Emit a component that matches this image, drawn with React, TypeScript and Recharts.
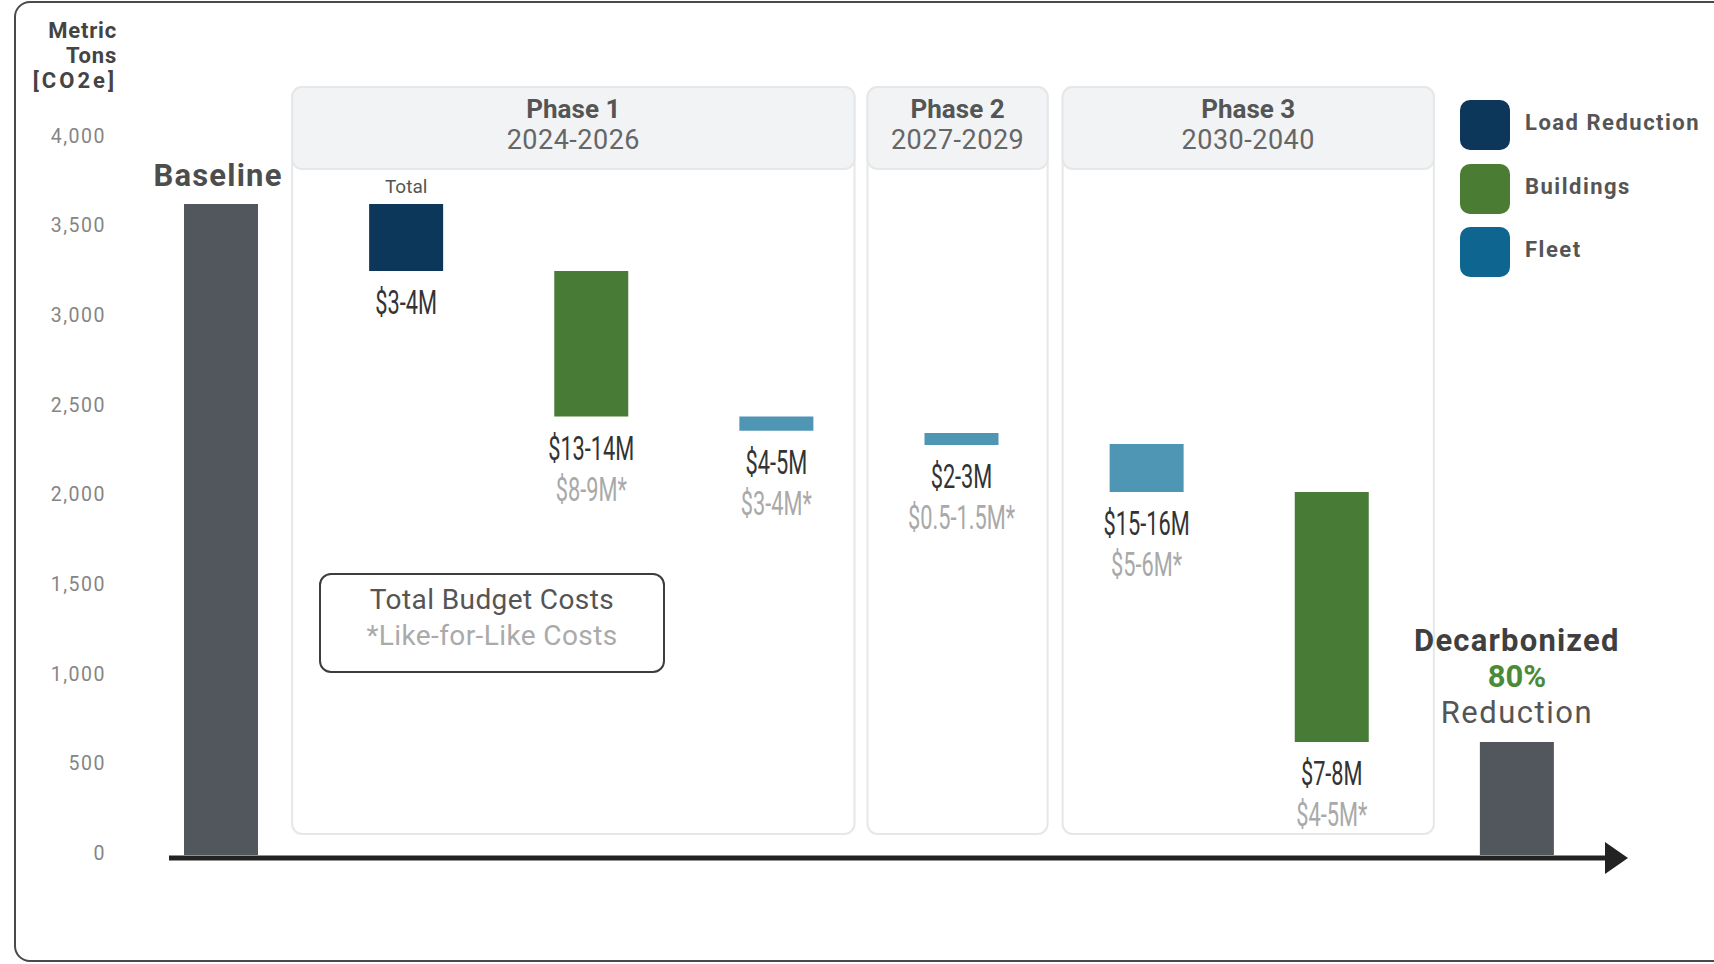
import React from 'react';
import {
  BarChart,
  Bar,
  XAxis,
  YAxis,
  Cell,
  LabelList,
  ReferenceArea,
  ReferenceLine,
} from 'recharts';

// waterfall steps
const steps = [
  'Baseline',
  'P1 Load Reduction',
  'P1 Buildings',
  'P1 Fleet',
  'P2 Fleet',
  'P3 Fleet',
  'P3 Buildings',
  'Decarbonized',
];
const stepKinds = ['total', 'load', 'buildings', 'fleet', 'fleet', 'fleet', 'buildings', 'total'];
const rangeLow = [0, 3257, 2446, 2366, 2287, 2025, 630, 0];
const rangeHigh = [3631, 3631, 3257, 2446, 2354, 2292, 2025, 630];
const totalCosts = ['', '$3-4M', '$13-14M', '$4-5M', '$2-3M', '$15-16M', '$7-8M', ''];
const likeCosts = ['', '', '$8-9M*', '$3-4M*', '$0.5-1.5M*', '$5-6M*', '$4-5M*', ''];
const topNotes = ['Baseline', 'Total', '', '', '', '', '', 'Decarbonized'];
const reductionPct = '80%';
const yTicks = [0, 500, 1000, 1500, 2000, 2500, 3000, 3500, 4000];

const phaseTitles = ['Phase 1', 'Phase 2', 'Phase 3'];
const phaseYears = ['2024-2026', '2027-2029', '2030-2040'];
const phaseFrom = ['P1 Load Reduction', 'P2 Fleet', 'P3 Fleet'];
const phaseTo = ['P1 Fleet', 'P2 Fleet', 'P3 Buildings'];

const legendNames = ['Load Reduction', 'Buildings', 'Fleet'];
const legendColors = ['#0c365a', '#4a7d33', '#0e6690'];

const kindColors: Record<string, string> = {
  total: '#52565d',
  load: '#0c365a',
  buildings: '#477b36',
  fleet: '#4f96b4',
};

// panels in the original are hand placed, not quite on the band edges
const panelNudge = [
  [-21, -14],
  [-1, -6],
  [9, 10],
];

const SANS = 'Roboto, "Noto Sans", sans-serif';

const data = steps.map((id, i) => ({
  id,
  range: [rangeLow[i], rangeHigh[i]],
  kind: stepKinds[i],
}));

// condensed cost text (no condensed face installed, so squeeze horizontally)
function Narrow({ x, y, fill, children }: any) {
  return (
    <text
      transform={`translate(${x} ${y}) scale(0.66 1)`}
      x={0}
      y={0}
      textAnchor="middle"
      dominantBaseline="central"
      fontFamily={SANS}
      fontSize={33}
      fill={fill}
    >
      {children}
    </text>
  );
}

function CostLabel(props: any) {
  const { x, y, width, height, index } = props;
  const top = Math.min(y, y + height);
  const bottom = Math.max(y, y + height);
  const cx = x + width / 2;
  const note = topNotes[index];
  return (
    <g>
      {totalCosts[index] && (
        <Narrow x={cx} y={bottom + 32} fill="#333">
          {totalCosts[index]}
        </Narrow>
      )}
      {likeCosts[index] && (
        <Narrow x={cx} y={bottom + 73} fill="#a9a9a9">
          {likeCosts[index]}
        </Narrow>
      )}
      {note === 'Baseline' && (
        <text x={cx - 3} y={top - 28} textAnchor="middle" dominantBaseline="central"
          fontFamily={SANS} fontWeight={700} fontSize={31} letterSpacing={1.2} fill="#4d4d4d">
          {note}
        </text>
      )}
      {note === 'Total' && (
        <text x={cx} y={top - 17} textAnchor="middle" dominantBaseline="central"
          fontFamily={SANS} fontSize={19} fill="#555">
          {note}
        </text>
      )}
      {note === 'Decarbonized' && (
        <g>
          <text x={cx} y={top - 102} textAnchor="middle" dominantBaseline="central"
            fontFamily={SANS} fontWeight={700} fontSize={31} letterSpacing={1.2} fill="#3f3f3f">
            {note}
          </text>
          <text x={cx} y={top - 66} textAnchor="middle" dominantBaseline="central"
            fontFamily={SANS} fontWeight={700} fontSize={31} fill="#4b8a36">
            {reductionPct}
          </text>
          <text x={cx} y={top - 30} textAnchor="middle" dominantBaseline="central"
            fontFamily={SANS} fontSize={31} letterSpacing={1.5} fill="#555">
            Reduction
          </text>
        </g>
      )}
    </g>
  );
}

function PhasePanel(props: any) {
  const { x, y, width, height, idx } = props;
  const [nl, nr] = panelNudge[idx];
  const left = x + nl;
  const w = width - nl + nr;
  const top = y + 3;
  const h = height - 24;
  return (
    <g>
      <rect x={left} y={top} width={w} height={h} rx={10} fill="#fff" stroke="#e6e7e8" strokeWidth={2} />
      <rect x={left} y={top} width={w} height={82} rx={10} fill="#f1f3f4" stroke="#e6e7e8" strokeWidth={2} />
      <text x={left + w / 2} y={top + 22} textAnchor="middle" dominantBaseline="central"
        fontFamily={SANS} fontWeight={700} fontSize={26} fill="#555">
        {phaseTitles[idx]}
      </text>
      <text x={left + w / 2} y={top + 53} textAnchor="middle" dominantBaseline="central"
        fontFamily={SANS} fontSize={27} letterSpacing={0.5} fill="#666">
        {phaseYears[idx]}
      </text>
    </g>
  );
}

function AxisArrow(props: any) {
  const { x1, x2, y1 } = props;
  const y = y1 + 3;
  const start = x1 + 41;
  const end = x2 - 2;
  return (
    <g>
      <line x1={start} y1={y} x2={end} y2={y} stroke="#222" strokeWidth={5} />
      <polygon points={`${end - 2},${y - 16} ${end + 21},${y} ${end - 2},${y + 16}`} fill="#222" />
    </g>
  );
}

export default function App() {
  return (
    <div style={{ position: 'relative', width: 1714, height: 964, overflow: 'hidden', background: '#fff' }}>
      <style>{'body{margin:0}'}</style>
      <div
        style={{
          position: 'absolute',
          left: 14,
          top: 1,
          width: 1800,
          height: 957,
          border: '2px solid #4a4a4a',
          borderRadius: 16,
        }}
      />
      <div style={{ position: 'absolute', left: 0, top: 0 }}>
        <BarChart width={1714} height={964} data={data} margin={{ top: 84, right: 105, bottom: 109, left: 28 }}>
          <XAxis dataKey="id" hide />
          <YAxis
            type="number"
            domain={[0, 4300]}
            ticks={yTicks}
            width={100}
            axisLine={false}
            tickLine={false}
            tickSize={0}
            tickMargin={22}
            tickFormatter={(v: number) => v.toLocaleString('en-US')}
            tick={{ fill: '#858585', fontSize: 19.5, fontFamily: SANS, letterSpacing: 1.5, dy: -2 }}
          />
          {phaseTitles.map((t, i) => (
            <ReferenceArea
              key={t}
              x1={phaseFrom[i]}
              x2={phaseTo[i]}
              ifOverflow="visible"
              shape={(p: any) => <PhasePanel {...p} idx={i} />}
            />
          ))}
          <ReferenceLine y={0} ifOverflow="visible" shape={(p: any) => <AxisArrow {...p} />} />
          <Bar dataKey="range" barSize={74} isAnimationActive={false}>
            {data.map((d) => (
              <Cell key={d.id} fill={kindColors[d.kind]} />
            ))}
            <LabelList dataKey="id" content={(p: any) => <CostLabel {...p} />} />
          </Bar>
        </BarChart>
      </div>

      {/* y axis title */}
      <div
        style={{
          position: 'absolute',
          right: 1714 - 117,
          top: 18,
          textAlign: 'right',
          fontFamily: SANS,
          fontWeight: 700,
          fontSize: 22,
          lineHeight: '25px',
          color: '#444',
          letterSpacing: 0.8,
        }}
      >
        <div>Metric</div>
        <div>Tons</div>
        <div style={{ letterSpacing: 3 }}>[CO2e]</div>
      </div>

      {/* legend */}
      <div style={{ position: 'absolute', left: 1460, top: 100 }}>
        {legendNames.map((name, i) => (
          <div key={name} style={{ display: 'flex', alignItems: 'center', height: 50, marginBottom: 13.5 }}>
            <div style={{ width: 50, height: 50, borderRadius: 10, background: legendColors[i] }} />
            <div
              style={{
                marginLeft: 15,
                marginTop: -5,
                fontFamily: SANS,
                fontWeight: 700,
                fontSize: 22,
                letterSpacing: 1.5,
                color: '#555',
              }}
            >
              {name}
            </div>
          </div>
        ))}
      </div>

      {/* budget key box */}
      <div
        style={{
          position: 'absolute',
          left: 319,
          top: 573,
          width: 342,
          height: 96,
          border: '2.5px solid #3d3d3d',
          borderRadius: 12,
          textAlign: 'center',
          fontFamily: SANS,
          fontSize: 28,
          lineHeight: '36px',
          letterSpacing: 0.4,
        }}
      >
        <div style={{ color: '#555', marginTop: 7 }}>Total Budget Costs</div>
        <div style={{ color: '#aaa' }}>*Like-for-Like Costs</div>
      </div>
    </div>
  );
}
